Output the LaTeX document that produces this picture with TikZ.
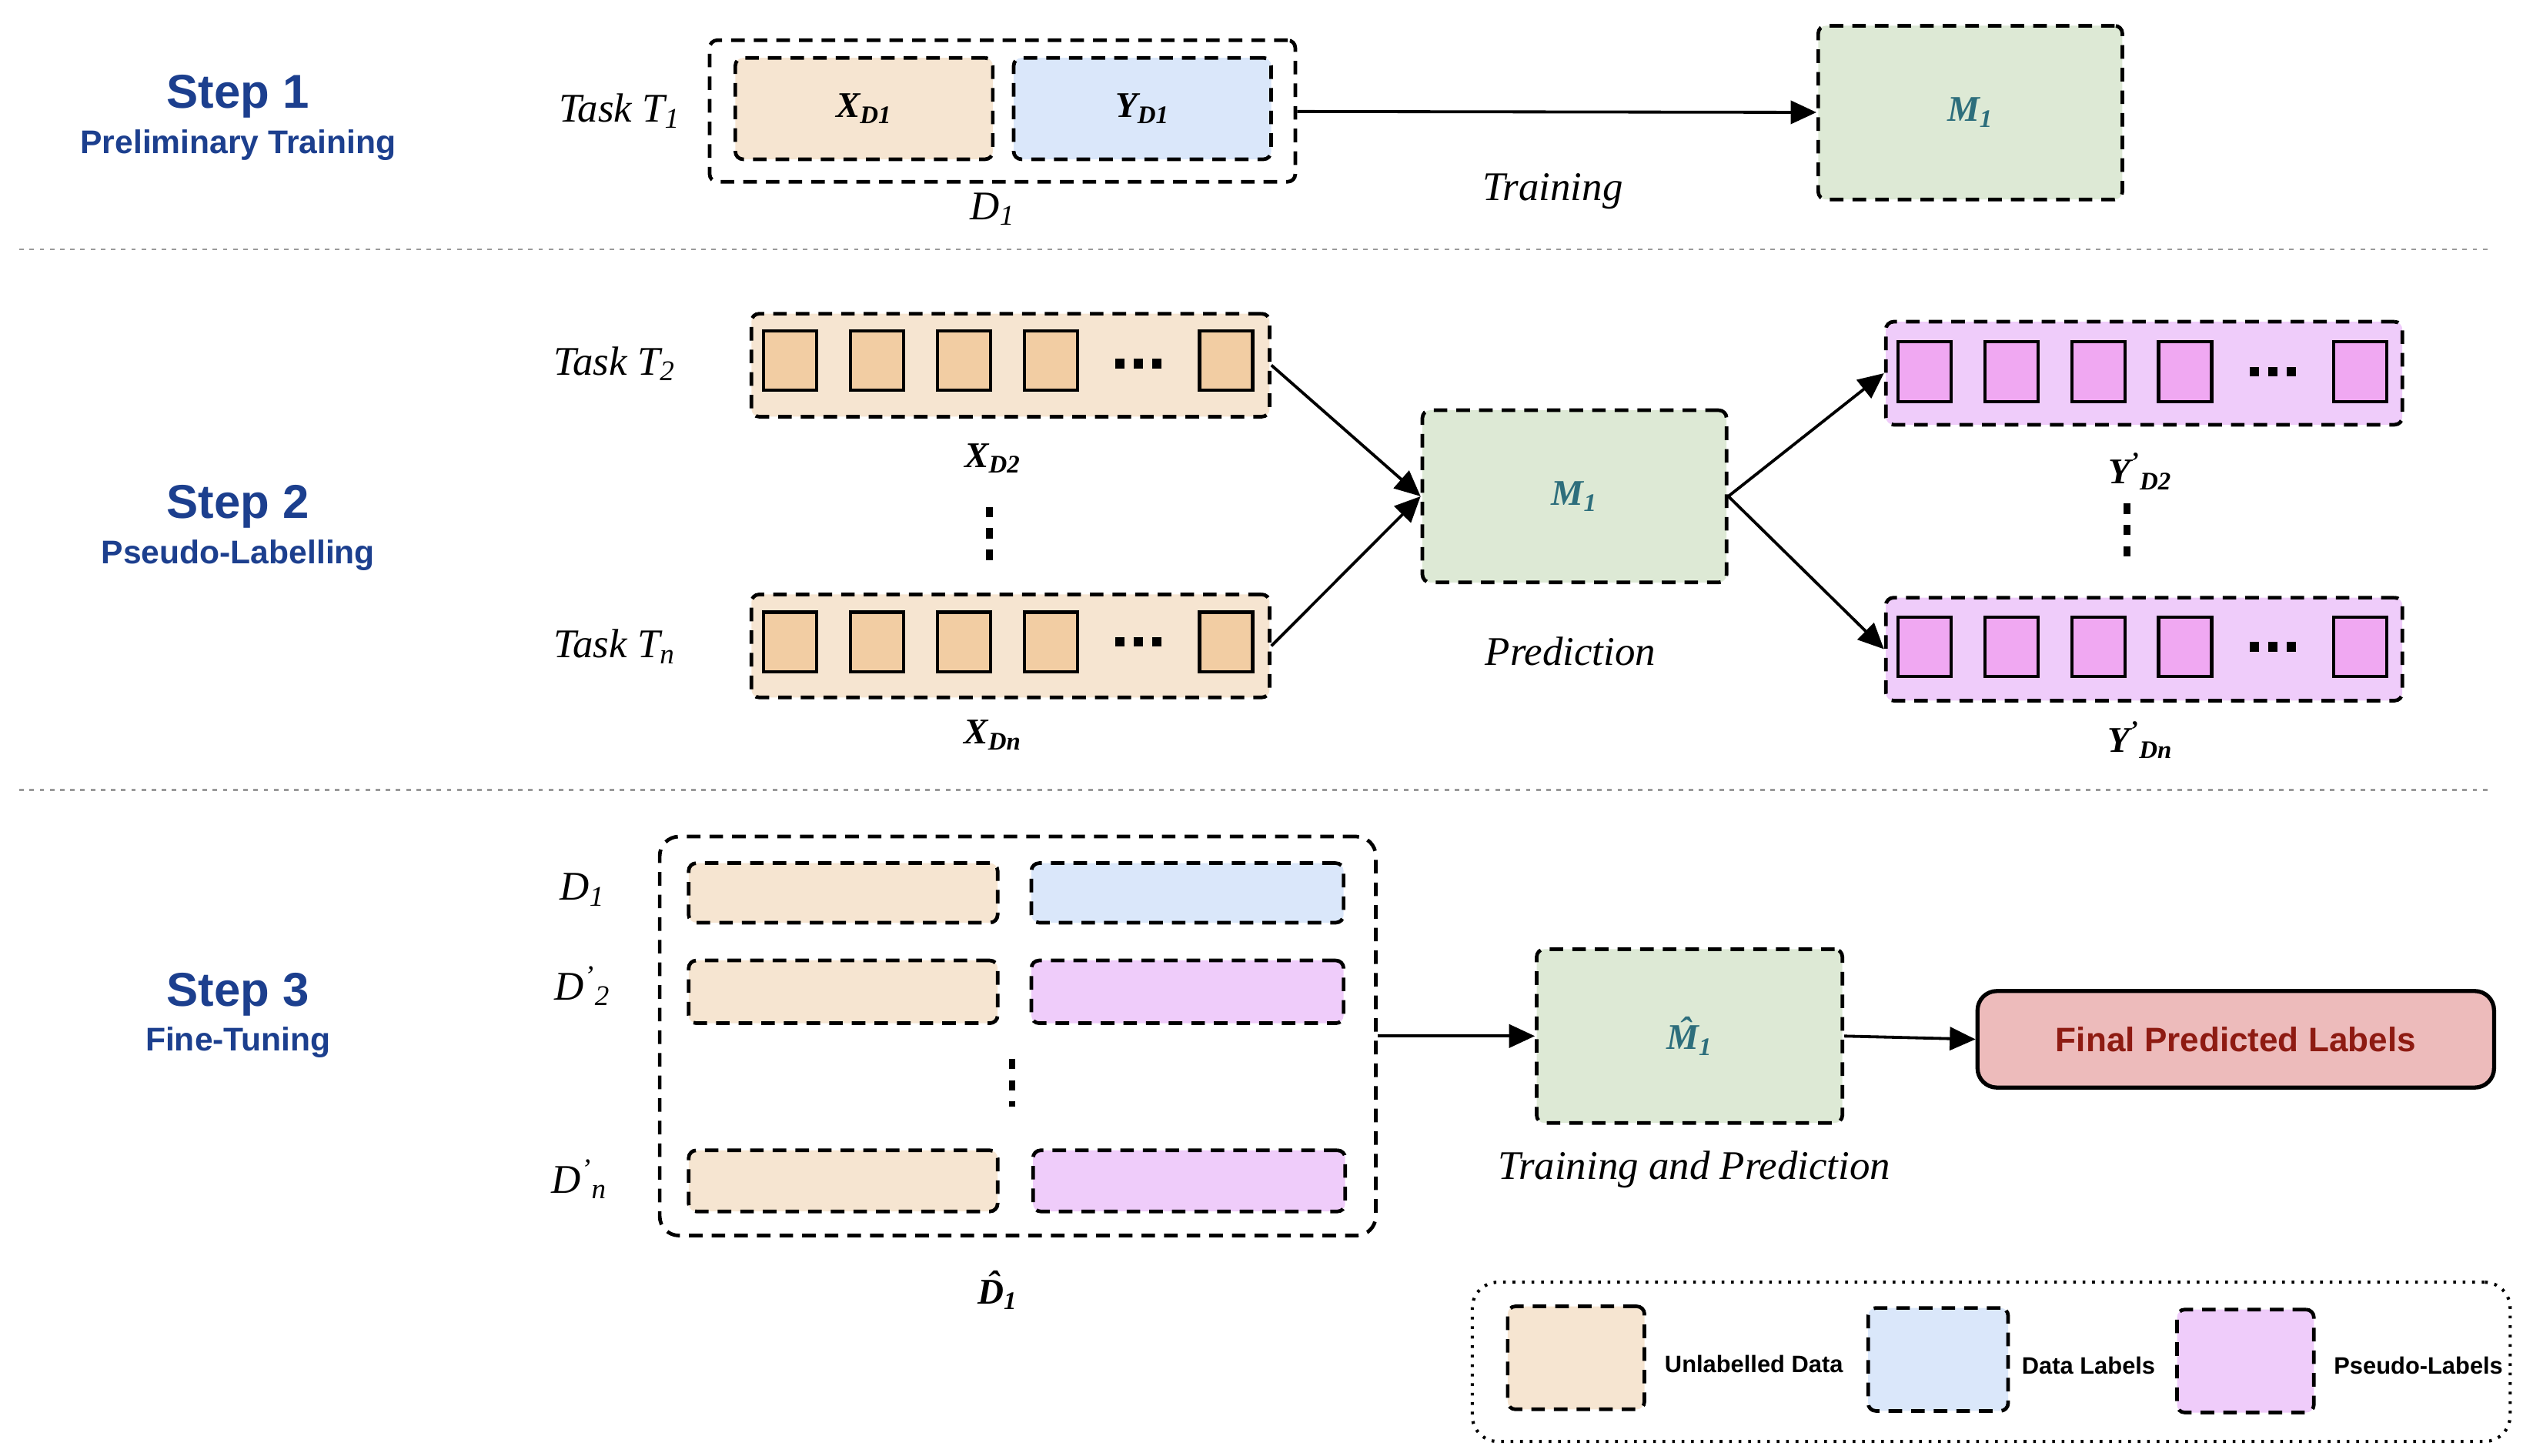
\documentclass[tikz,border=0pt]{standalone}
\usepackage{fontspec}
\setmainfont{Liberation Serif}
\setsansfont{Liberation Sans}
\usetikzlibrary{arrows.meta}

\definecolor{unlab}{HTML}{F6E5D1}
\definecolor{unlabsq}{HTML}{F2CDA3}
\definecolor{labblue}{HTML}{DAE7FA}
\definecolor{pseudo}{HTML}{EFCCFA}
\definecolor{pseudosq}{HTML}{F0A8F2}
\definecolor{modelgr}{HTML}{DDE9D5}
\definecolor{modeltxt}{HTML}{2D6E7C}
\definecolor{finalfill}{HTML}{EDBBBB}
\definecolor{finaltxt}{HTML}{8E1B12}
\definecolor{steptxt}{HTML}{1C3F8E}

\newcommand{\hatof}[1]{{\accent"02C6 #1}}

\tikzset{
  dbox/.style={draw, line width=1.6pt, dash pattern=on 6pt off 4pt, rounded corners=1.2mm, inner sep=0pt},
  sqbox/.style={draw, line width=1.4pt, inner sep=0pt, minimum width=8.25mm, minimum height=9.25mm},
  steptitle/.style={font=\fontsize{21}{24}\selectfont\sffamily\bfseries, text=steptxt},
  stepsub/.style={font=\fontsize{14.5}{16}\selectfont\sffamily\bfseries, text=steptxt},
  lbl/.style={font=\fontsize{18}{20}\selectfont\itshape},
  blbl/.style={font=\fontsize{16}{18}\selectfont\bfseries\itshape},
  mlbl/.style={font=\fontsize{16}{18}\selectfont\bfseries\itshape, text=modeltxt},
  leglbl/.style={font=\fontsize{10.5}{12}\selectfont\sffamily\bfseries},
  sep/.style={gray!80, line width=1pt, dash pattern=on 2pt off 2.5pt},
  hdots/.style={line width=4.2pt, dash pattern=on 4.2pt off 4pt},
  vdots/.style={line width=3pt, dash pattern=on 4.5pt off 5pt},
  arr/.style={->, line width=1.3pt}
}

\begin{document}
\begin{tikzpicture}[x=0.25mm, y=-0.25mm, >={Triangle[length=4mm,width=3.6mm]}]
\useasboundingbox (0,0) rectangle (1568,905);

% -------- step titles -----------
\node[steptitle] (s1) at (148,60) {Step 1};
\node[stepsub] (s1b) at (148,90) {Preliminary Training};
\node[steptitle] (s2) at (148,315) {Step 2};
\node[stepsub] (s2b) at (148,345) {Pseudo-Labelling};
\node[steptitle] (s3) at (148,618) {Step 3};
\node[stepsub] (s3b) at (148,648) {Fine-Tuning};

\draw[sep] (12,155) -- (1548,155);
\draw[sep] (12,491) -- (1548,491);

% -------- step 1 -----------
\node[lbl] (t1) at (385,69) {Task T\textsubscript{1}};
\node[dbox, minimum width=91mm, minimum height=22mm] (d1) at (623,69) {};
\node[dbox, fill=unlab, minimum width=40mm, minimum height=15.75mm, blbl] (xd1) at (537,67.5) {X\textsubscript{D1}};
\node[dbox, fill=labblue, minimum width=40mm, minimum height=15.75mm, blbl] (yd1) at (710,67.5) {Y\textsubscript{D1}};
\node[lbl] (d1lbl) at (617,130) {D\textsubscript{1}};
\node[dbox, fill=modelgr, minimum width=47.25mm, minimum height=27mm, mlbl] (m1a) at (1224.5,70) {M\textsubscript{1}};
\draw[arr] (d1) -- (m1a);
\node[lbl] (train) at (965,119) {Training};

% -------- step 2 -----------
\node[lbl] (t2) at (382,226) {Task T\textsubscript{2}};
\node[lbl] (tn) at (382,402) {Task T\textsubscript{n}};
\node[dbox, fill=unlab, minimum width=80.5mm, minimum height=16mm] (xd2) at (628,227) {};
\node[dbox, fill=unlab, minimum width=80.5mm, minimum height=16mm] (xdn) at (628,401.5) {};
\foreach \x [count=\i] in {491,545,599,653,762} {
  \node[sqbox, fill=unlabsq] (xa\i) at (\x,224) {};
  \node[sqbox, fill=unlabsq] (xb\i) at (\x,399) {};
}
\draw[hdots] (693,226) -- (726,226);
\draw[hdots] (693,399) -- (726,399);
\node[blbl] (xd2lbl) at (617,285) {X\textsubscript{D2}};
\node[blbl] (xdnlbl) at (617,457) {X\textsubscript{Dn}};
\draw[vdots] (615,315) -- (615,351);

\node[dbox, fill=modelgr, minimum width=47.25mm, minimum height=26.75mm, mlbl] (m1b) at (978.5,308.5) {M\textsubscript{1}};
\node[lbl] (pred) at (976,405) {Prediction};

\node[dbox, fill=pseudo, minimum width=80.25mm, minimum height=16mm] (yd2) at (1332.5,232) {};
\node[dbox, fill=pseudo, minimum width=80.25mm, minimum height=16mm] (ydn) at (1332.5,403.5) {};
\foreach \x [count=\i] in {1196,1250,1304,1358,1467} {
  \node[sqbox, fill=pseudosq] (ya\i) at (\x,231) {};
  \node[sqbox, fill=pseudosq] (yb\i) at (\x,402) {};
}
\draw[hdots] (1398,231) -- (1431,231);
\draw[hdots] (1398,402) -- (1431,402);
\node[blbl] (yd2lbl) at (1330,293) {Y\textsuperscript{'}\textsubscript{D2}};
\node[blbl] (ydnlbl) at (1330,460) {Y\textsuperscript{'}\textsubscript{Dn}};
\draw[vdots] (1322,313) -- (1322,349);

\draw[arr] (xd2.east) -- (m1b.west);
\draw[arr] (xdn.east) -- (m1b.west);
\draw[arr] (m1b.east) -- (yd2.west);
\draw[arr] (m1b.east) -- (ydn.west);

% -------- step 3 -----------
\node[dbox, rounded corners=3mm, minimum width=111.25mm, minimum height=62mm] (dhat) at (632.5,644) {};
\node[dbox, fill=unlab, minimum width=48mm, minimum height=9.25mm] (r1a) at (524,555) {};
\node[dbox, fill=labblue, minimum width=48.5mm, minimum height=9.25mm] (r1b) at (738,555) {};
\node[dbox, fill=unlab, minimum width=48mm, minimum height=9.75mm] (r2a) at (524,616.5) {};
\node[dbox, fill=pseudo, minimum width=48.5mm, minimum height=9.75mm] (r2b) at (738,616.5) {};
\node[dbox, fill=unlab, minimum width=48mm, minimum height=9.5mm] (rna) at (524,734) {};
\node[dbox, fill=pseudo, minimum width=48.5mm, minimum height=9.5mm] (rnb) at (739,734) {};
\node[lbl] (dl1) at (362,553) {D\textsubscript{1}};
\node[lbl] (dl2) at (362,613) {D\textsuperscript{'}\textsubscript{2}};
\node[lbl] (dln) at (360,733) {D\textsuperscript{'}\textsubscript{n}};
\draw[vdots] (629,658) -- (629,688);
\node[blbl] (dhatlbl) at (620,802) {\hatof{D}\textsubscript{1}};

\node[dbox, fill=modelgr, minimum width=47.5mm, minimum height=27mm, mlbl] (m1c) at (1050,644) {\hatof{M}\textsubscript{1}};
\node[lbl] (trpred) at (1053,727) {Training and Prediction};
\node[draw, line width=1.8pt, rounded corners=3mm, fill=finalfill, minimum width=80.25mm, minimum height=15mm,
      font=\fontsize{15}{17}\selectfont\sffamily\bfseries, text=finaltxt] (final) at (1389.5,646) {Final Predicted Labels};
\draw[arr] (dhat.east) -- (m1c.west);
\draw[arr] (m1c.east) -- (final.west);

% -------- legend -----------
\node[draw, line width=1.4pt, dash pattern=on 1.2pt off 3pt, rounded corners=4mm, minimum width=161.25mm, minimum height=24.75mm] (legend) at (1237.5,846.5) {};
\node[dbox, fill=unlab, minimum width=21.25mm, minimum height=16mm] (lg1) at (979.5,844) {};
\node[leglbl] (lg1t) at (1090,848) {Unlabelled Data};
\node[dbox, fill=labblue, minimum width=21.75mm, minimum height=16mm] (lg2) at (1204.5,845) {};
\node[leglbl] (lg2t) at (1298,849) {Data Labels};
\node[dbox, fill=pseudo, minimum width=21.25mm, minimum height=16mm] (lg3) at (1395.5,846) {};
\node[leglbl] (lg3t) at (1503,849) {Pseudo-Labels};

\end{tikzpicture}
\end{document}
